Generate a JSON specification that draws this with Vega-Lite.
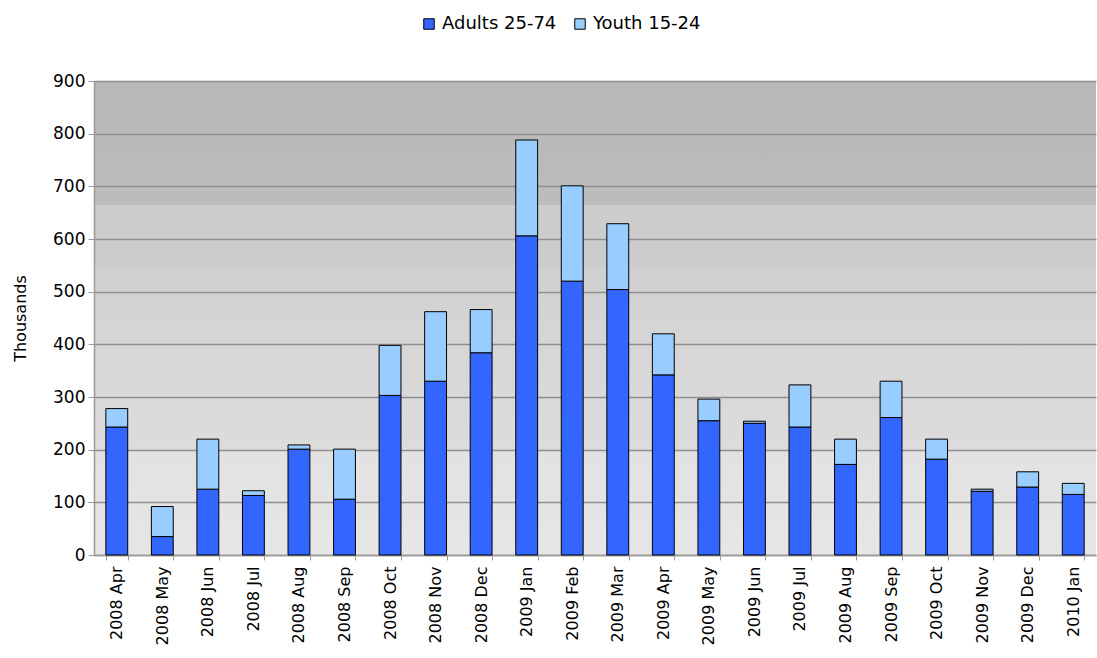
{
  "$schema": "https://vega.github.io/schema/vega-lite/v6.json",
  "autosize": {"type": "none"},
  "width": 1002,
  "height": 474,
  "padding": {"left": 94, "top": 81, "right": 1, "bottom": 103},
  "background": "white",
  "config": {
    "font": "DejaVu Sans"
  },
  "view": {
    "stroke": null,
    "fill": {
      "gradient": "linear",
      "x1": 0, "y1": 0, "x2": 0, "y2": 1,
      "stops": [
        {"offset": 0, "color": "#b8b8b8"},
        {"offset": 0.261, "color": "#bcbcbc"},
        {"offset": 0.262, "color": "#cccccc"},
        {"offset": 0.393, "color": "#cccccc"},
        {"offset": 0.394, "color": "#d0d0d0"},
        {"offset": 0.555, "color": "#d6d6d6"},
        {"offset": 0.778, "color": "#dcdcdc"},
        {"offset": 0.779, "color": "#e2e2e2"},
        {"offset": 1, "color": "#e6e6e6"}
      ]
    }
  },
  "data": {
    "values": [
      {"month": "2008 Apr", "group": "Adults 25-74", "value": 243},
      {"month": "2008 Apr", "group": "Youth 15-24", "value": 35},
      {"month": "2008 May", "group": "Adults 25-74", "value": 35},
      {"month": "2008 May", "group": "Youth 15-24", "value": 57},
      {"month": "2008 Jun", "group": "Adults 25-74", "value": 125},
      {"month": "2008 Jun", "group": "Youth 15-24", "value": 95},
      {"month": "2008 Jul", "group": "Adults 25-74", "value": 113},
      {"month": "2008 Jul", "group": "Youth 15-24", "value": 9},
      {"month": "2008 Aug", "group": "Adults 25-74", "value": 201},
      {"month": "2008 Aug", "group": "Youth 15-24", "value": 8},
      {"month": "2008 Sep", "group": "Adults 25-74", "value": 106},
      {"month": "2008 Sep", "group": "Youth 15-24", "value": 95},
      {"month": "2008 Oct", "group": "Adults 25-74", "value": 303},
      {"month": "2008 Oct", "group": "Youth 15-24", "value": 95},
      {"month": "2008 Nov", "group": "Adults 25-74", "value": 330},
      {"month": "2008 Nov", "group": "Youth 15-24", "value": 132},
      {"month": "2008 Dec", "group": "Adults 25-74", "value": 384},
      {"month": "2008 Dec", "group": "Youth 15-24", "value": 82},
      {"month": "2009 Jan", "group": "Adults 25-74", "value": 606},
      {"month": "2009 Jan", "group": "Youth 15-24", "value": 182},
      {"month": "2009 Feb", "group": "Adults 25-74", "value": 520},
      {"month": "2009 Feb", "group": "Youth 15-24", "value": 181},
      {"month": "2009 Mar", "group": "Adults 25-74", "value": 504},
      {"month": "2009 Mar", "group": "Youth 15-24", "value": 125},
      {"month": "2009 Apr", "group": "Adults 25-74", "value": 342},
      {"month": "2009 Apr", "group": "Youth 15-24", "value": 78},
      {"month": "2009 May", "group": "Adults 25-74", "value": 255},
      {"month": "2009 May", "group": "Youth 15-24", "value": 41},
      {"month": "2009 Jun", "group": "Adults 25-74", "value": 250},
      {"month": "2009 Jun", "group": "Youth 15-24", "value": 4},
      {"month": "2009 Jul", "group": "Adults 25-74", "value": 243},
      {"month": "2009 Jul", "group": "Youth 15-24", "value": 80},
      {"month": "2009 Aug", "group": "Adults 25-74", "value": 172},
      {"month": "2009 Aug", "group": "Youth 15-24", "value": 48},
      {"month": "2009 Sep", "group": "Adults 25-74", "value": 261},
      {"month": "2009 Sep", "group": "Youth 15-24", "value": 69},
      {"month": "2009 Oct", "group": "Adults 25-74", "value": 182},
      {"month": "2009 Oct", "group": "Youth 15-24", "value": 38},
      {"month": "2009 Nov", "group": "Adults 25-74", "value": 121},
      {"month": "2009 Nov", "group": "Youth 15-24", "value": 4},
      {"month": "2009 Dec", "group": "Adults 25-74", "value": 129},
      {"month": "2009 Dec", "group": "Youth 15-24", "value": 29},
      {"month": "2010 Jan", "group": "Adults 25-74", "value": 115},
      {"month": "2010 Jan", "group": "Youth 15-24", "value": 21}
    ]
  },
  "mark": {"type": "bar", "stroke": "#000000", "strokeWidth": 1},
  "encoding": {
    "x": {
      "field": "month",
      "type": "nominal",
      "sort": null,
      "scale": {"paddingInner": 0.52, "paddingOuter": 0.26},
      "axis": {
        "title": null,
        "labelAngle": -90,
        "labelFontSize": 16,
        "labelColor": "#000000",
        "labelPadding": 6,
        "tickBand": "extent",
        "ticks": true,
        "tickColor": "#999999",
        "tickSize": 5,
        "domainColor": "#999999",
        "domainWidth": 1.5,
        "grid": false
      }
    },
    "y": {
      "field": "value",
      "type": "quantitative",
      "stack": "zero",
      "scale": {"domain": [0, 900], "nice": false},
      "axis": {
        "title": "Thousands",
        "titleFontSize": 16,
        "titleFontWeight": "normal",
        "titleColor": "#000000",
        "titlePadding": 24,
        "values": [0, 100, 200, 300, 400, 500, 600, 700, 800, 900],
        "labelFontSize": 17,
        "labelColor": "#000000",
        "labelPadding": 3,
        "tickColor": "#999999",
        "tickSize": 6,
        "domainColor": "#999999",
        "domainWidth": 1.5,
        "grid": true,
        "gridColor": "#8f8f8f",
        "gridWidth": 1.5
      }
    },
    "color": {
      "field": "group",
      "type": "nominal",
      "scale": {"domain": ["Adults 25-74", "Youth 15-24"], "range": ["#3366ff", "#99ccff"]},
      "legend": {
        "title": null,
        "orient": "none",
        "direction": "horizontal",
        "legendX": 326,
        "legendY": -66,
        "symbolType": "square",
        "symbolSize": 110,
        "symbolStrokeColor": "#000000",
        "symbolStrokeWidth": 1,
        "labelFontSize": 18,
        "labelColor": "#000000",
        "columnPadding": 14,
        "labelOffset": 4
      }
    },
    "order": {"field": "group", "sort": "ascending"}
  }
}
